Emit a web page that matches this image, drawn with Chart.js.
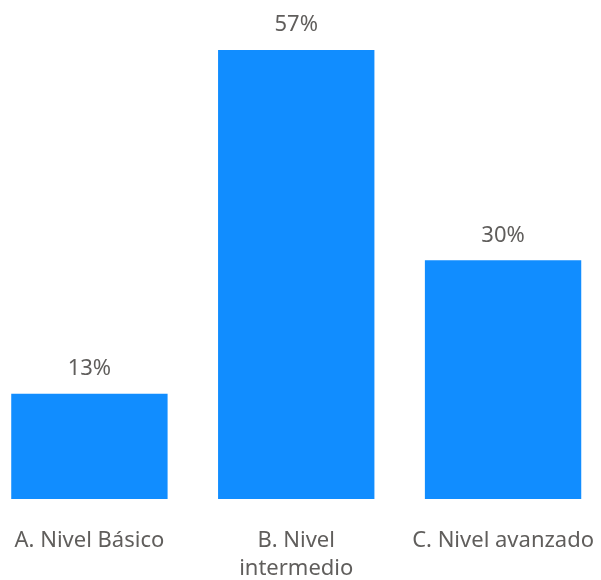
<!DOCTYPE html>
<html>
<head>
<meta charset="utf-8">
<script src="https://cdn.jsdelivr.net/npm/chart.js@4"></script>
<style>
  html, body { margin: 0; padding: 0; background: #fff; overflow: hidden; }
  #wrap { position: absolute; left: -14px; top: 0; width: 627px; height: 580px; }
</style>
</head>
<body>
<div id="wrap"><canvas id="niveles"></canvas></div>
<script>
const categorias = ['A. Nivel Básico', ['B. Nivel', 'intermedio'], 'C. Nivel avanzado'];
const porcentajes = [13.3, 56.8, 30.2];

const fuente = "'Segoe UI', 'Noto Sans', sans-serif";
const gris = '#605E5C';

// etiquetas de porcentaje encima de cada barra
const etiquetas = {
  id: 'etiquetas',
  afterDatasetsDraw(chart) {
    const ctx = chart.ctx;
    const meta = chart.getDatasetMeta(0);
    ctx.save();
    ctx.font = '22px ' + fuente;
    ctx.fillStyle = gris;
    ctx.textAlign = 'center';
    ctx.textBaseline = 'middle';
    meta.data.forEach(function(bar, i) {
      ctx.fillText(Math.round(porcentajes[i]) + '%', bar.x, bar.y - 25);
    });
    ctx.restore();
  }
};

var grafico = new Chart(document.getElementById('niveles'), {
  type: 'bar',
  data: {
    labels: categorias,
    datasets: [{
      data: porcentajes,
      backgroundColor: '#118DFF',
      categoryPercentage: 1,
      barPercentage: 0.756
    }]
  },
  options: {
    responsive: true,
    maintainAspectRatio: false,
    animation: false,
    layout: { padding: { top: 50, bottom: 0 } },
    plugins: {
      legend: { display: false },
      tooltip: { enabled: false }
    },
    scales: {
      x: {
        grid: { display: false },
        border: { display: false },
        ticks: {
          color: gris,
          font: { family: fuente, size: 22, lineHeight: 1.3 },
          padding: 19,
          maxRotation: 0,
          autoSkip: false
        },
        afterFit: function(scale) { scale.height = 81; }
      },
      y: {
        display: false,
        min: 0,
        max: 56.8
      }
    }
  },
  plugins: [etiquetas]
});
</script>
</body>
</html>
